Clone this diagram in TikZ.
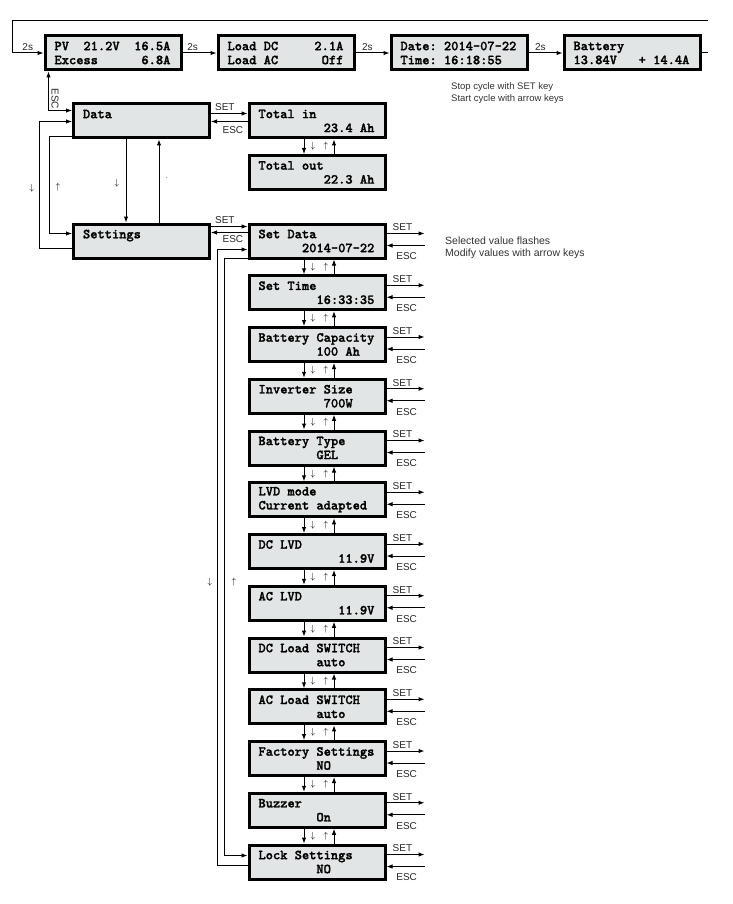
\documentclass[tikz,border=0pt]{standalone}
\usepackage{fontspec}
\setsansfont{Liberation Sans}
\newfontfamily\lcdfont{lmmonolt10-bold.otf}[FakeBold=1.5]
\usetikzlibrary{arrows.meta,calc,positioning}

\definecolor{lcdgray}{RGB}{226,229,229}
% blank LCD cells
\newcommand\sk[1]{\hspace*{#1\dimexpr0.525em\relax}}

\tikzset{
  lcd/.style={draw, line width=3pt, fill=lcdgray, minimum width=136pt, minimum height=34pt,
    inner xsep=0pt, inner ysep=0pt, text width=117pt, align=left,
    font=\lcdfont\fontsize{13.8}{14}\selectfont},
  link/.style={line width=1pt, ->},
  key/.style={font=\sffamily\fontsize{10}{10}\selectfont, text=black!85, inner sep=0pt},
  keyarrow/.style={font=\fontsize{9}{9}\selectfont, inner sep=0pt},
  note/.style={font=\sffamily\fontsize{9.5}{12}\selectfont, text=black!80, align=left,
    anchor=north west, inner sep=0pt}
}

\begin{document}
\begin{tikzpicture}[x=1pt, y=-1pt, >={Latex[length=6pt,width=4.5pt]}]
  \useasboundingbox (0,0) rectangle (732,904);

  % Display cycle
  \node[lcd] (pv) at (113,53) {PV\sk{2}21.2V\sk{2}16.5A\\Excess\sk{6}6.8A};
  \node[lcd] (loaddc) at (286,53) {Load\sk{1}DC\sk{5}2.1A\\Load\sk{1}AC\sk{6}Off};
  \node[lcd] (date) at (459,53) {Date:\sk{1}2014-07-22\\Time:\sk{1}16:18:55};
  \node[lcd] (battery) at (632,53) {Battery\\13.84V\sk{3}+\sk{1}14.4A};

  \draw[link] (pv.east) -- (loaddc.west) node[key, pos=0.3, above=2pt] {2s};
  \draw[link] (loaddc.east) -- (date.west) node[key, pos=0.35, above=2pt] {2s};
  \draw[link] (date.east) -- (battery.west) node[key, pos=0.35, above=2pt] {2s};

  % Loop back to first display
  \coordinate (tailR) at (708,53);
  \coordinate (loopR) at (708,21);
  \coordinate (loopL) at (12,21);
  \draw[line width=1pt] (battery.east) -- (tailR);
  \draw[link] (loopR) -- (loopL) |- (pv.west) node[key, pos=0.75, above=2pt] {2s};

  \node[note] (stopnote) at (451,82) {Stop cycle with SET key\\Start cycle with arrow keys};

  % Data and settings menu
  \node[lcd] (data) at (141.5,121) {Data\\\sk{1}};
  \node[lcd] (settings) at (141.5,241) {Settings\\\sk{1}};
  \node[lcd] (totalin) at (317,121) {Total\sk{1}in\\\sk{9}23.4\sk{1}Ah};
  \node[lcd] (totalout) at (317,172.5) {Total\sk{1}out\\\sk{9}22.3\sk{1}Ah};

  \draw[link, <->] ($(pv.south west)+(5,0)$) |- ($(data.north west)+(0,8)$)
    node[key, pos=0.35, rotate=-90, anchor=south, inner sep=2.5pt] {ESC};
  \draw[link] ($(data.south west)+(0,-3)$) -- ++(-23,0) |- ($(settings.north west)+(0,11)$);
  \draw[link] ($(settings.south west)+(0,-11)$) -- ++(-33,0) |- ($(data.north west)+(0,19)$);
  \node[keyarrow] (dnA) at (32,188) {$\downarrow$};
  \node[keyarrow] (upA) at (58,187) {$\uparrow$};

  \draw[link] ($(data.south)+(-15.5,0)$) -- ($(settings.north)+(-15.5,0)$);
  \draw[link] ($(settings.north)+(17.5,0)$) -- ($(data.south)+(17.5,0)$);
  \node[keyarrow] (dnB) at (117,183) {$\downarrow$};
  \node[keyarrow] (dotB) at (167,178) {$\cdot$};

  \draw[link] ($(data.north east)+(0,11)$) -- ($(totalin.north west)+(0,11)$)
    node[key, pos=0.38, above=2pt] {SET};
  \draw[link] ($(totalin.north west)+(0,19)$) -- ($(data.north east)+(0,19)$)
    node[key, pos=0.4, below=5pt] {ESC};

  \draw[link] ($(totalin.south)+(-13,0)$) -- ($(totalout.north)+(-13,0)$);
  \draw[link] ($(totalout.north)+(17,0)$) -- ($(totalin.south)+(17,0)$);
  \node[keyarrow] (dnT) at ($(totalin.south)!0.5!(totalout.north)+(-4,0)$) {$\downarrow$};
  \node[keyarrow] (upT) at ($(totalin.south)!0.5!(totalout.north)+(9,0)$) {$\uparrow$};

  % Settings list
  \foreach \txt [count=\i] in {
      {Set\sk{1}Data\\\sk{6}2014-07-22},
      {Set\sk{1}Time\\\sk{8}16:33:35},
      {Battery\sk{1}Capacity\\\sk{8}100\sk{1}Ah},
      {Inverter\sk{1}Size\\\sk{9}700W},
      {Battery\sk{1}Type\\\sk{8}GEL},
      {LVD\sk{1}mode\\Current\sk{1}adapted},
      {DC\sk{1}LVD\\\sk{11}11.9V},
      {AC\sk{1}LVD\\\sk{11}11.9V},
      {DC\sk{1}Load\sk{1}SWITCH\\\sk{8}auto},
      {AC\sk{1}Load\sk{1}SWITCH\\\sk{8}auto},
      {Factory\sk{1}Settings\\\sk{8}NO},
      {Buzzer\\\sk{8}On},
      {Lock\sk{1}Settings\\\sk{8}NO}}
    \node[lcd] (m\i) at (317,{241+51.75*(\i-1)}) {\txt};

  \foreach \i in {1,...,13}{
    \draw[link] ($(m\i.north east)+(0,11)$) -- ++(38,0) node[key, pos=0.42, above=2pt] {SET};
    \draw[link] ($(m\i.north east)+(38,23)$) -- ($(m\i.north east)+(0,23)$)
      node[key, pos=0.47, below=7pt] {ESC};
  }

  \foreach \i [evaluate=\i as \j using int(\i+1)] in {1,...,12}{
    \draw[link] ($(m\i.south)+(-13,0)$) -- ($(m\j.north)+(-13,0)$);
    \draw[link] ($(m\j.north)+(17,0)$) -- ($(m\i.south)+(17,0)$);
    \node[keyarrow] (dn\i) at ($(m\i.south)!0.5!(m\j.north)+(-4,0)$) {$\downarrow$};
    \node[keyarrow] (up\i) at ($(m\i.south)!0.5!(m\j.north)+(9,0)$) {$\uparrow$};
  }

  \draw[link] ($(settings.north east)+(0,4)$) -- ($(m1.north west)+(0,4)$)
    node[key, pos=0.38, above=2pt] {SET};
  \draw[link] ($(m1.north west)+(0,10)$) -- ($(settings.north east)+(0,10)$)
    node[key, pos=0.4, below=3pt] {ESC};

  % Wrap around the list
  \draw[link] ($(m13.north west)+(0,22)$) -- ++(-30,0) |- ($(m1.north west)+(0,27)$);
  \draw[link] ($(m1.south west)+(0,-1)$) -- ++(-23,0) |- ($(m13.north west)+(0,12)$);
  \node[keyarrow] (dnC) at (210,582) {$\downarrow$};
  \node[keyarrow] (upC) at (234,582) {$\uparrow$};

  \node[note, font=\sffamily\fontsize{10.5}{11.5}\selectfont] (selnote) at (445,237)
    {Selected value flashes\\Modify values with arrow keys};
\end{tikzpicture}
\end{document}
